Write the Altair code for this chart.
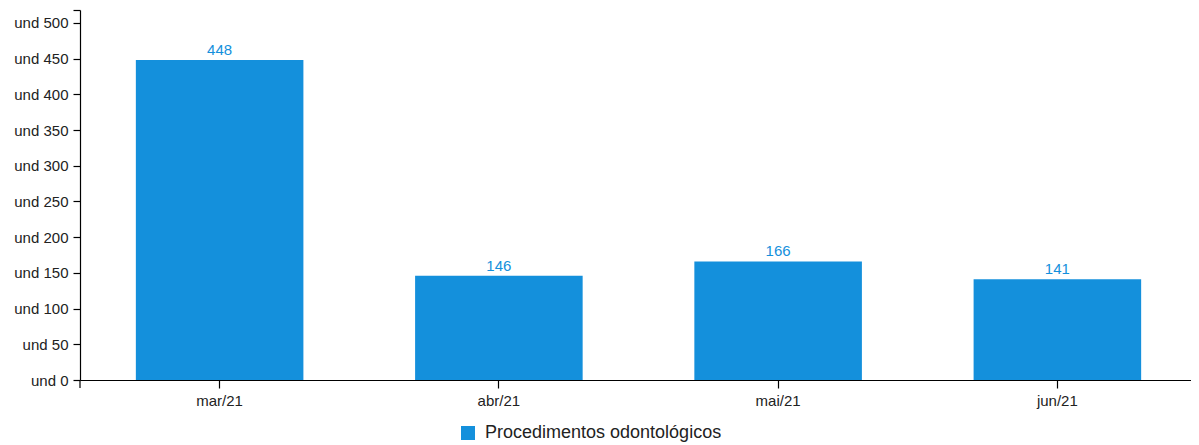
import altair as alt
import pandas as pd

months = ["mar/21", "abr/21", "mai/21", "jun/21"]
values = [448, 146, 166, 141]
series_name = "Procedimentos odontológicos"
y_ticks = [0, 50, 100, 150, 200, 250, 300, 350, 400, 450, 500]
y_max = 518

BAR = "#1490DC"
W, H = 1111, 370
X_RANGE = 1117

df = pd.DataFrame({"mes": months, "valor": values, "serie": [series_name] * len(months)})

x_enc = alt.X(
    "mes:N", sort=months,
    scale=alt.Scale(paddingInner=0.4, paddingOuter=0.2, range=[0, X_RANGE]),
    axis=alt.Axis(title=None, labelAngle=0, labelFontSize=15, tickSize=8,
                  labelPadding=5, domainColor="black", tickColor="black",
                  labelColor="#222", domainWidth=1.2, tickWidth=1.2, grid=False),
)
y_enc = alt.Y(
    "valor:Q",
    scale=alt.Scale(domain=[0, y_max], nice=False, zero=True),
    axis=alt.Axis(title=None, values=y_ticks + [y_max],
                  labelExpr="datum.value > 500 ? '' : 'und ' + datum.value",
                  labelFontSize=15, tickSize=7, labelPadding=5, labelOverlap=False,
                  domainColor="black", tickColor="black", labelColor="#222",
                  domainWidth=1.2, tickWidth=1.2, grid=False),
)

base = alt.Chart(df).encode(x=x_enc, y=y_enc)

bars = base.mark_bar(color=BAR).encode(
    color=alt.Color("serie:N", scale=alt.Scale(range=[BAR]),
                    legend=alt.Legend(title=None, orient="none", legendX=379, legendY=414,
                                      symbolType="square", symbolSize=196,
                                      symbolStrokeWidth=0, labelFontSize=18, labelLimit=0,
                                      labelColor="#222", padding=0, labelOffset=8)),
)

labels = base.mark_text(color=BAR, fontSize=15, baseline="bottom", dy=-2).encode(
    text="valor:Q"
)

edge = pd.DataFrame({"k": [0]})
left_tick = alt.Chart(edge).mark_rule(color="black", strokeWidth=1.2).encode(
    x=alt.value(0), y=alt.value(H), y2=alt.value(H + 8)
)

chart = (bars + labels + left_tick).properties(
    width=W, height=H,
    autosize="none",
    padding={"left": 72, "top": 2, "right": 0, "bottom": 70},
).configure(font="Liberation Sans", view={"stroke": None})

chart.save("out.html", embed_options={"renderer": "svg", "actions": False})
